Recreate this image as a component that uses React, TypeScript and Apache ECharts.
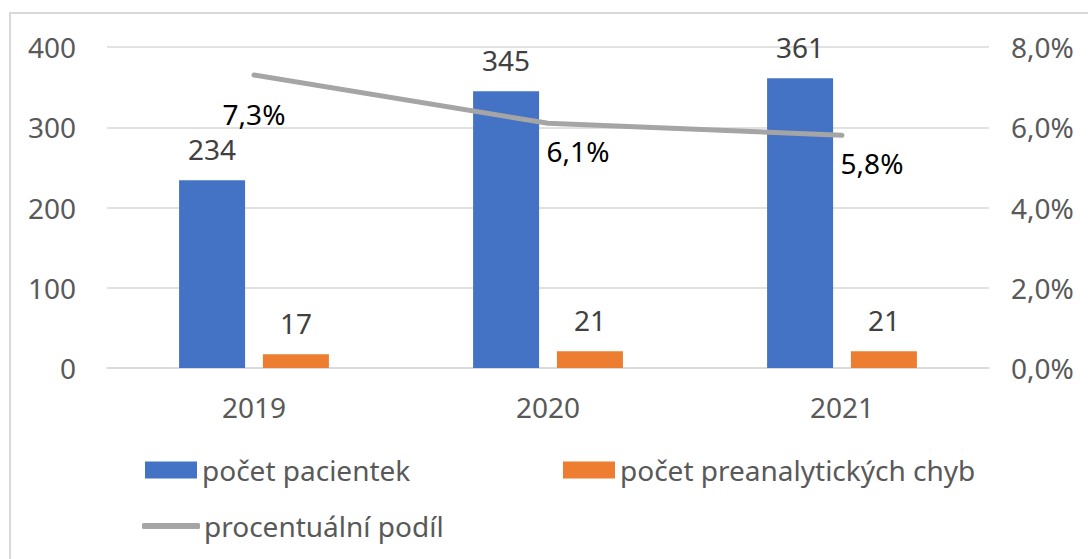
import React, { useEffect, useRef } from "react";
import * as echarts from "echarts";

const categories = ["2019", "2020", "2021"];
const patients = [234, 345, 361];
const errors = [17, 21, 21];
const share = [0.073, 0.061, 0.058];
const seriesNames = ["počet pacientek", "počet preanalytických chyb", "procentuální podíl"];

const FONT = "'Noto Sans', sans-serif";
const FS = 28;

export default function App() {
  const ref = useRef<HTMLDivElement>(null);
  useEffect(() => {
    if (!ref.current) return;
    const chart = echarts.init(ref.current, null, { renderer: "svg" });
    const pctFmt = (v: number) => (v * 100).toFixed(1).replace(".", ",") + "%";
    chart.setOption({
      animation: false,
      textStyle: { fontFamily: FONT },
      graphic: [
        {
          type: "rect",
          shape: { x: 10, y: 13, width: 1200, height: 700 },
          style: { fill: "none", stroke: "#d9d9d9", lineWidth: 2 },
          z: -10,
        },
      ],
      grid: { left: 107, right: 99, top: 47, bottom: 191, containLabel: false },
      legend: [
        {
          left: 145, top: 456, padding: 0, itemWidth: 52, itemHeight: 17, itemGap: 5, icon: "rect",
          data: [seriesNames[0]],
          textStyle: { fontFamily: FONT, fontSize: FS, color: "#595959", padding: [0, 0, 0, 0] },
        },
        {
          left: 563, top: 456, padding: 0, itemWidth: 52, itemHeight: 17, icon: "rect",
          data: [seriesNames[1]],
          textStyle: { fontFamily: FONT, fontSize: FS, color: "#595959", padding: [0, 0, 0, 0] },
        },
        {
          left: 142, top: 512, padding: 0, itemWidth: 58, itemHeight: 6,
          data: [{ name: seriesNames[2], icon: "roundRect" }],
          textStyle: { fontFamily: FONT, fontSize: FS, color: "#595959", padding: [0, 0, 0, -1] },
        },
      ],
      xAxis: {
        type: "category",
        data: categories,
        axisLine: { lineStyle: { color: "#d9d9d9", width: 1.5 } },
        axisTick: { show: false },
        axisLabel: { fontFamily: FONT, fontSize: FS, color: "#595959", margin: 25 },
      },
      yAxis: [
        {
          type: "value", min: 0, max: 400, interval: 100,
          axisLine: { show: false }, axisTick: { show: false },
          splitLine: { lineStyle: { color: "#d9d9d9", width: 1.5 } },
          axisLabel: { fontFamily: FONT, fontSize: FS, color: "#595959", margin: 31 },
        },
        {
          type: "value", min: 0, max: 0.08, interval: 0.02,
          axisLine: { show: false }, axisTick: { show: false },
          splitLine: { show: false },
          axisLabel: { fontFamily: FONT, fontSize: FS, color: "#595959", margin: 22, formatter: pctFmt },
        },
      ],
      series: [
        {
          name: seriesNames[0], type: "bar", data: patients, barWidth: 66, barGap: "27%",
          itemStyle: { color: "#4472C4" },
          label: { show: true, position: "top", distance: 17, fontFamily: FONT, fontSize: FS, color: "#404040" },
        },
        {
          name: seriesNames[1], type: "bar", data: errors, barWidth: 66,
          itemStyle: { color: "#ED7D31" },
          label: { show: true, position: "top", distance: 17, fontFamily: FONT, fontSize: FS, color: "#404040" },
        },
        {
          name: seriesNames[2], type: "line", yAxisIndex: 1,
          symbol: "circle", symbolSize: 0.01, showSymbol: true,
          data: share.map((v, i) => ({
            value: v,
            label: i === 0 ? { offset: [0, 13] } : { offset: [30, 2] },
          })),
          lineStyle: { color: "#A5A5A5", width: 5, cap: "round" },
          itemStyle: { color: "#A5A5A5" },
          label: {
            show: true, position: "bottom", distance: 12, fontFamily: FONT, fontSize: FS, color: "#000",
            formatter: (p: any) => pctFmt(p.value),
          },
          z: 5,
        },
      ],
    });
    return () => chart.dispose();
  }, []);
  return <div ref={ref} style={{ position: "absolute", left: 0, top: 0, width: 1088, height: 559 }} />;
}
